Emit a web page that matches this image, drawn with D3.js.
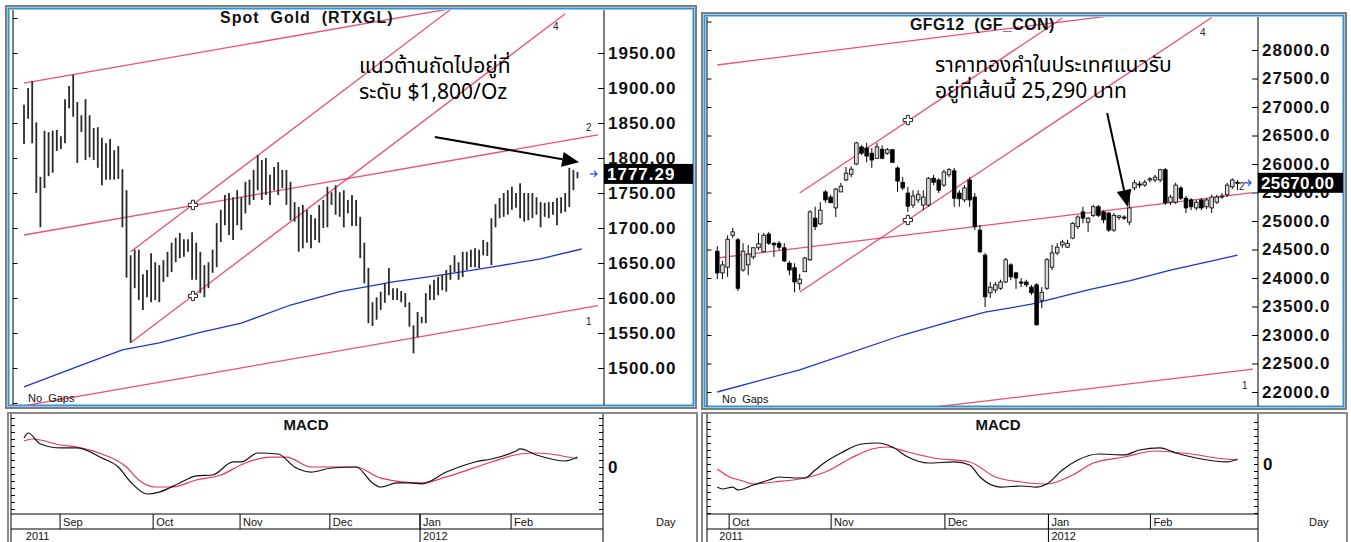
<!DOCTYPE html>
<html>
<head>
<meta charset="utf-8">
<script src="https://cdn.jsdelivr.net/npm/d3@7"></script>
<style>
  body { margin: 0; background: #fff; }
  text { font-family: "Liberation Sans", Arial, sans-serif; }
  .thai { font-family: Tahoma, "Noto Sans Thai", "Noto Sans Thai UI", Loma, Garuda, "Noto Sans", sans-serif; }
</style>
</head>
<body>
<div id="chart"></div>
<script>
// ---------- Spot Gold (RTXGL), daily bars from Aug 19 2011 ----------
const goldHigh = [1876,1900,1910,1851,1773,1839,1837,1839,1840,1831,1884,1903,1919,1880,1861,1884,1861,1843,1844,1829,
  1821,1827,1811,1817,1784,1754,1661,1669,1669,1634,1640,1664,1651,1647,1654,1666,1679,1686,1693,1684,
  1684,1694,1679,1666,1647,1651,1669,1707,1726,1747,1750,1744,1754,1744,1766,1769,1783,1804,1797,1800,
  1776,1787,1794,1783,1783,1766,1737,1730,1733,1726,1719,1714,1733,1740,1759,1751,1761,1751,1754,1740,
  1747,1740,1716,1679,1643,1594,1601,1609,1621,1643,1614,1614,1610,1607,1594,1561,1580,1573,1607,1619,
  1626,1630,1633,1640,1647,1661,1651,1666,1666,1669,1671,1669,1683,1680,1714,1734,1743,1750,1754,1759,
  1750,1764,1750,1750,1750,1744,1737,1736,1737,1737,1743,1744,1750,1786,1783,1780];
const goldLow = [1820,1856,1821,1750,1701,1757,1774,1779,1810,1813,1821,1871,1859,1793,1837,1797,1801,1797,1786,1761,
  1769,1769,1769,1770,1701,1629,1536,1614,1597,1583,1601,1594,1597,1594,1623,1630,1637,1651,1657,1659,
  1666,1626,1626,1607,1601,1614,1636,1644,1680,1704,1690,1683,1704,1697,1721,1733,1740,1754,1740,1747,
  1733,1754,1747,1757,1733,1711,1709,1666,1671,1679,1671,1683,1679,1700,1701,1733,1719,1716,1701,1721,
  1703,1703,1657,1621,1564,1560,1569,1583,1593,1604,1597,1597,1594,1587,1559,1521,1544,1564,1564,1597,
  1597,1604,1611,1609,1626,1637,1626,1630,1640,1644,1644,1643,1661,1660,1647,1701,1714,1716,1719,1726,
  1729,1714,1709,1711,1714,1719,1701,1716,1714,1719,1704,1721,1723,1730,1754,1771];
const goldLast = 1777.29;
// moving average read at sample bars
const goldMaIdx = [0, 14, 24, 33, 43, 53, 65, 77, 90, 102, 114, 126, 136];
const goldMaVal = [1473, 1504, 1526, 1536, 1551, 1564, 1590, 1609, 1623, 1633, 1644, 1656, 1670];
// trend lines: [bar1, price1, bar2, price2]
const goldTrend = [[0, 1907, 136, 2046], [0, 1690, 140, 1833], [0, 1446, 140, 1589],
  [26, 1536, 132, 2006], [26, 1666, 104, 2012]];
const goldCross = [[41.2, 1733], [41.2, 1603]];
const goldArrow = [100.2, 1830, 135.4, 1794];
const goldPriceTicks = [1500, 1550, 1600, 1650, 1700, 1750, 1800, 1850, 1900, 1950];
// MACD
const goldMacdIdx = [0,1,4,9,13,19,23,26,30,33,38,42,46,51,53,57,62,66,70,75,81,85,87,91,94,97,103,110,114,120,121,125,132,135];
const goldMacd = [20.7,24.3,16.4,13.6,13.6,6.4,0,-10.7,-19.3,-17.9,-11.4,-6.4,-5.7,3.6,3.6,10,9.3,0,-3.6,-0.7,
  0,-11.4,-14.3,-11.4,-11.4,-12.1,-3.6,3.6,5.7,11.4,12.9,8.6,4.3,7.1];
const goldSigIdx = [0,2,9,13,19,25,28,32,36,42,48,54,60,64,70,81,87,97,103,114,121,125,135];
const goldSignal = [18.6,20,15.7,14.3,9.3,0,-9.3,-14.3,-14.3,-9.3,-5.7,2.9,7.1,7.1,0,0,-7.9,-11.4,-7.1,3.6,9.3,10,5.7];
const goldMonths = ["Sep", "Oct", "Nov", "Dec", "Jan", "Feb"];
const goldMonthPos = [8.8, 31.5, 52.7, 74.6, 96.6, 118.8];
const goldYears = ["2011", "2012"];
const goldYearPos = [-0.3, 96.6];

// ---------- GFG12 (GF_CON), daily candles from Sep 29 2011 ----------
const gfOpen = [24470,24090,24190,24750,24670,24140,24230,24370,24530,24460,24770,24610,24610,24530,24260,24180,23900,24110,24320,25050,
  24950,25510,25420,25230,25510,25720,25820,26000,26300,26280,26190,26100,26260,26190,26250,25930,25680,25490,25280,25370,
  25280,25280,25750,25720,25630,25810,25880,25490,25370,25720,25420,24840,24400,23740,23790,23820,23930,24230,24090,23930,
  23930,23840,23880,23610,23820,24190,24440,24580,24540,24700,24900,25160,24980,25100,25250,25160,25140,24840,25060,25070,
  24980,25580,25650,25630,25720,25720,25720,25900,25330,25330,25580,25400,25370,25230,25370,25250,25230,25330,25420,25460,
  25600,25680];
const gfHigh = [24560,24300,24750,24880,24700,24610,24580,24540,24790,24790,24810,24630,24650,24610,24300,24260,24070,24370,25190,25250,
  25330,25540,25460,25580,25670,25950,25960,26390,26330,26370,26280,26370,26330,26280,26260,25960,25770,25600,25540,25540,
  25540,25770,25810,25750,25900,25930,25930,25540,25630,25770,25490,24930,24440,23930,23930,23970,24350,24260,24110,24000,
  23970,23880,23910,23840,24350,24580,24610,24670,24670,24980,25100,25250,25070,25280,25280,25190,25160,25140,25100,25100,
  25540,25720,25700,25720,25770,25810,25910,25930,25460,25670,25610,25440,25400,25370,25400,25400,25460,25460,25490,25670,
  25750,25720];
const gfLow = [23980,23980,24020,24700,23770,24110,24050,24330,24490,24460,24580,24370,24490,24280,24050,23750,23790,24110,24300,24840,
  24930,25320,25320,25070,25510,25700,25770,25980,26160,26030,25930,26090,26090,26160,26020,25510,25540,25160,25230,25320,
  25190,25250,25630,25490,25600,25770,25250,25250,25330,25250,24840,24440,23490,23650,23740,23790,23910,23960,23810,23840,
  23840,23700,23160,23470,23790,24140,24400,24530,24530,24680,24860,24960,24810,25070,25070,24960,24810,24810,25020,25020,
  24930,25540,25580,25600,25680,25680,25680,25280,25280,25300,25370,25140,25190,25190,25190,25210,25140,25300,25390,25420,
  25560,25540];
const gfClose = [24090,24230,24680,24810,23820,24470,24420,24530,24600,24750,24610,24580,24540,24300,24140,23930,23980,24350,25160,24900,
  25190,25370,25320,25560,25610,25840,25910,26370,26190,26140,26070,26300,26100,26250,26030,25700,25580,25260,25440,25470,
  25420,25750,25680,25540,25860,25900,25400,25390,25580,25370,24900,24460,23670,23840,23880,23930,24320,24020,24000,23910,
  23880,23740,23180,23750,24320,24440,24540,24630,24610,24960,25070,25050,25050,25250,25100,25020,24840,25100,25090,25050,
  25230,25670,25630,25680,25740,25770,25900,25320,25420,25630,25400,25230,25250,25330,25230,25370,25420,25420,25440,25630,
  25720,25670];
const gfLast = 25670;
const gfMaIdx = [0, 16, 36, 45, 52, 61, 72, 80, 88, 95, 101];
const gfMaVal = [22000, 22390, 23000, 23230, 23400, 23540, 23790, 23950, 24140, 24280, 24400];
const gfTrend = [[0, 27737, 101, 28878], [0, 24351, 104, 25498], [0, 21281, 104, 22403],
  [16, 25491, 67, 28560], [16, 23754, 96, 28570]];
const gfCross = [[37, 26771], [37, 25017]];
const gfArrow = [75.7, 26894, 79.7, 25245];
const gfPriceTicks = [22000, 22500, 23000, 23500, 24000, 24500, 25000, 25500, 26000, 26500, 27000, 27500, 28000];
const gfMacdIdx = [0,1,3,4,7,10,12,15,17,19,21,24,28,31,34,37,41,46,49,51,55,59,62,64,67,70,74,79,82,86,89,93,99,101];
const gfMacd = [-329,-357,-329,-371,-300,-229,-186,-200,-200,-86,29,157,286,300,243,100,14,29,-14,-186,
  -329,-314,-329,-286,-86,57,143,129,200,229,157,86,29,71];
const gfSigIdx = [0,2,5,7,11,17,21,26,30,33,37,42,49,54,59,64,69,73,79,85,92,97,101];
const gfSignal = [-71,-171,-243,-286,-257,-200,-114,86,214,243,171,86,29,-186,-257,-286,-157,14,100,186,143,86,57];
const gfMonths = ["Oct", "Nov", "Dec", "Jan", "Feb"];
const gfMonthPos = [2.3, 22.1, 44.2, 64.3, 84.1];
const gfYears = ["2011", "2012"];
const gfYearPos = [-0.2, 64.3];

const RED = "#e8335a", BLUE = "#2233cc";

const svg = d3.select("#chart").append("svg")
    .attr("width", 1351)
    .attr("height", 542);

function arrow(g, x1, y1, x2, y2) {
  const a = Math.atan2(y2 - y1, x2 - x1), L = 17, w = 7.5;
  const bx = x2 - L * Math.cos(a), by = y2 - L * Math.sin(a);
  g.append("line").attr("x1", x1).attr("y1", y1).attr("x2", bx).attr("y2", by)
      .attr("stroke", "#000").attr("stroke-width", 2);
  g.append("path")
      .attr("d", d3.line()([[x2, y2], [bx - w * Math.sin(a), by + w * Math.cos(a)], [bx + w * Math.sin(a), by - w * Math.cos(a)]]) + "Z")
      .attr("fill", "#000");
}

// frame, axes, trend lines, MA shared by both price panels
function pricePanel(o) {
  const g = svg.append("g");
  g.append("rect").attr("x", o.fx0).attr("y", o.fy0)
      .attr("width", o.fx1 - o.fx0).attr("height", o.fy1 - o.fy0)
      .attr("fill", "#fff").attr("stroke", "#7d7d7d").attr("stroke-width", 2);
  g.append("rect").attr("x", o.fx0 + 2.5).attr("y", o.fy0 + 2.5)
      .attr("width", o.fx1 - o.fx0 - 5).attr("height", o.fy1 - o.fy0 - 5)
      .attr("fill", "none").attr("stroke", "#2f93d6").attr("stroke-width", 2);

  const [lo, hi] = [o.y.invert(o.py1), o.y.invert(o.py0)];
  const minor = d3.range(Math.ceil(lo / o.minorStep) * o.minorStep, hi, o.minorStep);
  const major = d3.range(Math.ceil(lo / o.majorStep) * o.majorStep, hi, o.majorStep);

  // inner left axis, ticks pointing right
  const la = g.append("g").attr("transform", `translate(${o.leftX},0)`);
  la.call(d3.axisLeft(o.y).tickValues(minor).tickSize(-2.5).tickFormat(""));
  la.call(d3.axisLeft(o.y).tickValues(major).tickSize(-4.5).tickFormat(""));
  la.selectAll(".domain").remove();
  g.append("line").attr("x1", o.leftX).attr("x2", o.leftX).attr("y1", o.py0).attr("y2", o.py1).attr("stroke", "#000");

  // right price axis, ticks pointing left, labels outside
  const ra = g.append("g").attr("transform", `translate(${o.rightX},0)`);
  ra.call(d3.axisRight(o.y).tickValues(minor).tickSize(-4).tickFormat(""));
  ra.call(d3.axisRight(o.y).tickValues(o.labels).tickSize(-6).tickPadding(4).tickFormat(o.fmt));
  ra.selectAll(".domain").remove();
  ra.selectAll("text").attr("fill", "#111").style("font-size", "17px").style("font-weight", "bold")
      .style("letter-spacing", "1px");
  g.append("line").attr("x1", o.rightX).attr("x2", o.rightX).attr("y1", o.py0).attr("y2", o.py1).attr("stroke", "#000");

  g.append("clipPath").attr("id", o.id + "clip").append("rect")
      .attr("x", o.px0).attr("y", o.py0).attr("width", o.rightX - o.px0).attr("height", o.py1 - o.py0);
  const plot = g.append("g").attr("clip-path", `url(#${o.id}clip)`);

  // moving average
  plot.append("path")
      .datum(o.maIdx.map((d, i) => [d, o.maVal[i]]))
      .attr("fill", "none").attr("stroke", BLUE).attr("stroke-width", 1.3)
      .attr("d", d3.line().x(d => o.x(d[0])).y(d => o.y(d[1])));

  // trend lines
  plot.selectAll(".trend").data(o.trend).enter().append("line")
      .attr("x1", d => o.x(d[0])).attr("y1", d => o.y(d[1]))
      .attr("x2", d => o.x(d[2])).attr("y2", d => o.y(d[3]))
      .attr("stroke", RED).attr("stroke-width", 1.3).attr("opacity", 0.85);

  g.append("text").attr("x", o.titleX).attr("y", o.titleY)
      .style("font-size", "16px").style("font-weight", "bold").style("letter-spacing", o.titleSpacing)
      .style("white-space", "pre").attr("fill", "#111").text(o.title);

  g.append("text").attr("x", o.noGapsX).attr("y", o.py1 - 3)
      .style("font-size", "11px").style("white-space", "pre").attr("fill", "#111").text("No  Gaps");

  return { g, plot };
}

function afterMarks(p, o) {
  // cross markers
  p.plot.selectAll(".cross").data(o.cross).enter().append("path")
      .attr("transform", d => `translate(${o.x(d[0])},${o.y(d[1])})`)
      .attr("d", d3.symbol(d3.symbolCross, 48))
      .attr("fill", "#fff").attr("stroke", "#222").attr("stroke-width", 1);
  // line numbers
  o.nums.forEach(n => p.g.append("text").attr("x", n[1]).attr("y", n[2])
      .style("font-size", "10px").attr("fill", "#222").text(n[0]));
  // annotation arrow and text
  arrow(p.g, o.x(o.arrow[0]), o.y(o.arrow[1]), o.x(o.arrow[2]), o.y(o.arrow[3]));
  o.note.forEach((t, i) => p.g.append("text").attr("class", "thai")
      .attr("x", o.noteX).attr("y", o.noteY + i * 26)
      .style("font-size", "21px").attr("fill", "#000").text(t));
  // last price box
  const ly = o.y(o.last);
  p.g.append("rect").attr("x", o.rightX).attr("y", ly - 10).attr("width", o.fx1 - 3 - o.rightX).attr("height", 20).attr("fill", "#000");
  p.g.append("text").attr("x", o.rightX + 3).attr("y", ly + 6.5)
      .style("font-size", "17px").style("font-weight", "bold").style("letter-spacing", o.boxSpacing)
      .attr("fill", "#fff").text(o.lastFmt(o.last));
  p.g.append("path")
      .attr("d", `M${o.rightX - 14},${ly}h7m-3,-3l3,3l-3,3`)
      .attr("fill", "none").attr("stroke", "#2244ee").attr("stroke-width", 1.2);
}

function macdPanel(o) {
  const g = svg.append("g");
  g.append("rect").attr("x", o.fx0).attr("y", 413).attr("width", o.fx1 - o.fx0).attr("height", 140)
      .attr("fill", "#fff").attr("stroke", "#8a8a8a").attr("stroke-width", 2);
  const ticks = d3.range(o.tickLo, o.tickHi + 1e-9, o.tickStep);
  const la = g.append("g").attr("transform", `translate(${o.leftX},0)`);
  la.call(d3.axisLeft(o.y).tickValues(ticks).tickSize(-4).tickFormat(""));
  la.selectAll(".domain").remove();
  const ra = g.append("g").attr("transform", `translate(${o.rightX},0)`);
  ra.call(d3.axisRight(o.y).tickValues(ticks).tickSize(-4).tickPadding(5).tickFormat(d => d === 0 ? "0" : ""));
  ra.selectAll(".domain").remove();
  ra.selectAll("text").attr("fill", "#111").style("font-size", "17px").style("font-weight", "bold");
  g.append("line").attr("x1", o.leftX).attr("x2", o.leftX).attr("y1", 414).attr("y2", 542).attr("stroke", "#000");
  g.append("line").attr("x1", o.rightX).attr("x2", o.rightX).attr("y1", 414).attr("y2", 542).attr("stroke", "#000");
  g.append("line").attr("x1", o.leftX).attr("x2", o.rightX).attr("y1", 514).attr("y2", 514).attr("stroke", "#000");
  g.append("line").attr("x1", o.leftX).attr("x2", o.rightX).attr("y1", 529).attr("y2", 529).attr("stroke", "#000");

  g.append("text").attr("x", o.titleX).attr("y", 430).attr("text-anchor", "middle")
      .style("font-size", "15px").style("font-weight", "bold").attr("fill", "#111").text("MACD");

  const line = d3.line().curve(d3.curveMonotoneX).x(d => o.x(d[0])).y(d => o.y(d[1]));
  g.append("path").datum(o.sigIdx.map((d, i) => [d, o.sig[i]]))
      .attr("fill", "none").attr("stroke", RED).attr("stroke-width", 1.2).attr("d", line);
  g.append("path").datum(o.macdIdx.map((d, i) => [d, o.macd[i]]))
      .attr("fill", "none").attr("stroke", "#111").attr("stroke-width", 1.2).attr("d", line);

  o.months.forEach((m, i) => {
    const mx = o.x(o.monthPos[i]);
    g.append("line").attr("x1", mx).attr("x2", mx).attr("y1", 514).attr("y2", 529).attr("stroke", "#000");
    g.append("text").attr("x", mx + 3).attr("y", 526).style("font-size", "11px").attr("fill", "#111").text(m);
  });
  o.years.forEach((yv, i) => {
    const yx = Math.max(o.leftX, o.x(o.yearPos[i]));
    if (i > 0) g.append("line").attr("x1", yx).attr("x2", yx).attr("y1", 514).attr("y2", 542).attr("stroke", "#000");
    g.append("text").attr("x", yx + 3).attr("y", 540).style("font-size", "11px").attr("fill", "#111").text(yv);
  });
  g.append("text").attr("x", o.dayX).attr("y", 526).style("font-size", "11px").attr("fill", "#111").text("Day");
}

// ---------- left: Spot Gold ----------
const gx = d3.scaleLinear().domain([0, 135]).range([24, 24 + 135 * 4.1]);
const gy = d3.scaleLinear().domain([1500, 1950]).range([368, 53]);
const goldOpt = {
  id: "gold", fx0: 6, fy0: 6, fx1: 696, fy1: 408, px0: 10, py0: 10, py1: 405,
  leftX: 13, rightX: 604, x: gx, y: gy, minorStep: 10, majorStep: 50,
  labels: goldPriceTicks, fmt: d3.format(".2f"),
  maIdx: goldMaIdx, maVal: goldMaVal, trend: goldTrend,
  title: "Spot  Gold  (RTXGL)", titleX: 220, titleY: 23, titleSpacing: "1px", noGapsX: 28,
  cross: goldCross, nums: [["4", 553, 30], ["2", 586, 131], ["1", 586, 325]],
  arrow: goldArrow, note: ["แนวต้านถัดไปอยู่ที่", "ระดับ $1,800/Oz"], noteX: 359, noteY: 73,
  last: goldLast, lastFmt: d3.format(".2f"), boxSpacing: "1px"
};
const gp = pricePanel(goldOpt);
gp.plot.selectAll(".bar").data(goldHigh).enter().append("line")
    .attr("x1", (d, i) => gx(i)).attr("x2", (d, i) => gx(i))
    .attr("y1", d => gy(d)).attr("y2", (d, i) => gy(goldLow[i]))
    .attr("stroke", "#2a2a2a").attr("stroke-width", 1.8);
afterMarks(gp, goldOpt);

// ---------- right: GFG12 ----------
const fx = d3.scaleLinear().domain([0, 101]).range([717.3, 717.3 + 101 * 5.15]);
const fy = d3.scaleLinear().domain([22000, 28000]).range([392, 50]);
const gfOpt = {
  id: "gf", fx0: 702, fy0: 13, fx1: 1346, fy1: 409, px0: 706, py0: 17, py1: 406,
  leftX: 707, rightX: 1258, x: fx, y: fy, minorStep: 100, majorStep: 500,
  labels: gfPriceTicks, fmt: d3.format(".1f"),
  maIdx: gfMaIdx, maVal: gfMaVal, trend: gfTrend,
  title: "GFG12  (GF_CON)", titleX: 910, titleY: 30, titleSpacing: "0.4px", noGapsX: 722,
  cross: gfCross, nums: [["4", 1200, 36], ["2", 1239, 190], ["1", 1242, 389]],
  arrow: gfArrow, note: ["ราคาทองคำในประเทศแนวรับ", "อยู่ที่เส้นนี้ 25,290 บาท"], noteX: 935, noteY: 72,
  last: gfLast, lastFmt: d3.format(".2f"), boxSpacing: "0.3px"
};
const fp = pricePanel(gfOpt);
const candle = fp.plot.selectAll(".candle").data(gfOpen).enter().append("g");
candle.append("line")
    .attr("x1", (d, i) => fx(i)).attr("x2", (d, i) => fx(i))
    .attr("y1", (d, i) => fy(gfHigh[i])).attr("y2", (d, i) => fy(gfLow[i]))
    .attr("stroke", "#000").attr("stroke-width", 1);
candle.append("rect")
    .attr("x", (d, i) => fx(i) - 1.8).attr("width", 3.6)
    .attr("y", (d, i) => fy(Math.max(d, gfClose[i])))
    .attr("height", (d, i) => Math.max(1, Math.abs(fy(d) - fy(gfClose[i]))))
    .attr("fill", (d, i) => gfClose[i] >= d ? "#d8d8d8" : "#000")
    .attr("stroke", "#000").attr("stroke-width", 0.8);
afterMarks(fp, gfOpt);

// ---------- MACD panels ----------
macdPanel({
  fx0: 8, fx1: 697, leftX: 11, rightX: 603, x: gx,
  y: d3.scaleLinear().domain([0, 10]).range([467, 453]),
  tickLo: -30, tickHi: 35, tickStep: 5, titleX: 306,
  macdIdx: goldMacdIdx, macd: goldMacd, sigIdx: goldSigIdx, sig: goldSignal,
  months: goldMonths, monthPos: goldMonthPos, years: goldYears, yearPos: goldYearPos, dayX: 656
});
macdPanel({
  fx0: 702, fx1: 1347, leftX: 707, rightX: 1258, x: fx,
  y: d3.scaleLinear().domain([0, 100]).range([464, 457]),
  tickLo: -700, tickHi: 600, tickStep: 100, titleX: 998,
  macdIdx: gfMacdIdx, macd: gfMacd, sigIdx: gfSigIdx, sig: gfSignal,
  months: gfMonths, monthPos: gfMonthPos, years: gfYears, yearPos: gfYearPos, dayX: 1309
});
</script>
</body>
</html>
